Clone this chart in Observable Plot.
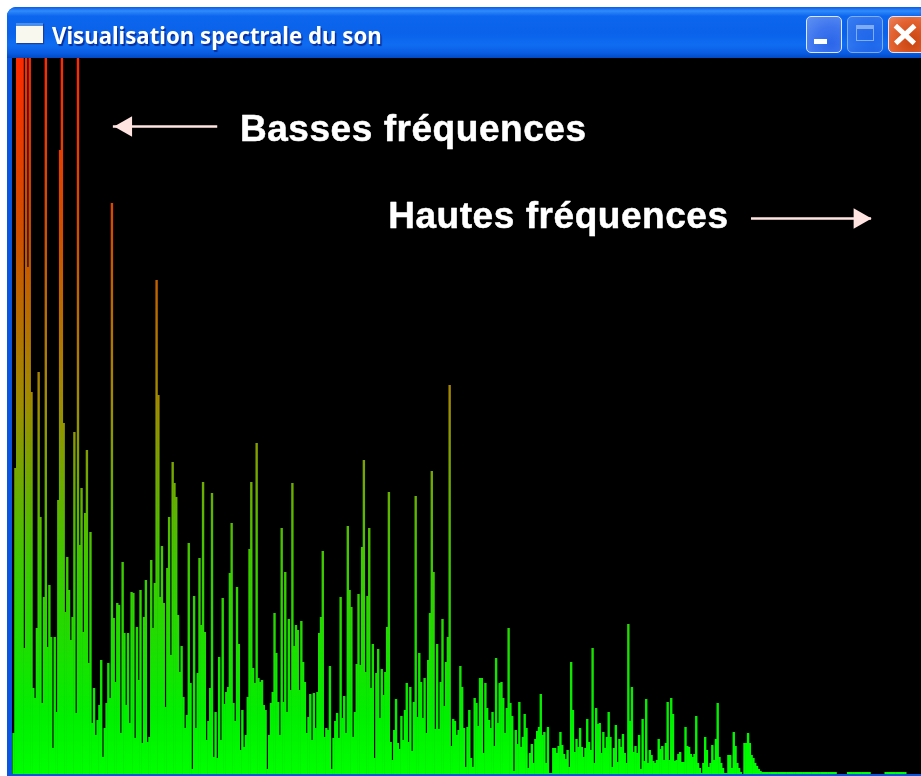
<!DOCTYPE html>
<html lang="fr">
<head>
<meta charset="utf-8">
<title>Visualisation spectrale du son</title>
<script src="https://cdn.jsdelivr.net/npm/d3@7"></script>
<script src="https://cdn.jsdelivr.net/npm/@observablehq/plot@0.6"></script>
<style>
html,body{margin:0;padding:0;background:#fff;width:921px;height:776px;overflow:hidden}
#win{position:absolute;left:7px;top:7px;width:914px;height:769px;background:#0a55e0;border-radius:9px 0 0 0;overflow:hidden}
#bar{position:absolute;left:0;top:0;width:914px;height:51px;
 background:linear-gradient(#0a5ce6 0,#2f8bfb 4px,#0d66ee 9px,#0a62ea 26px,#0f6df2 38px,#0a5ce2 46px,#0049c4 51px)}
#title{position:absolute;left:45px;top:12px;color:#fff;font:700 23.5px "Noto Sans",sans-serif;white-space:nowrap;text-shadow:1.5px 1.5px 1px #0a2f9a;transform:scaleX(.945);transform-origin:0 50%}
#icon{position:absolute;left:9px;top:16px;width:27px;height:20px;background:#f8f8ee;border-top:3px solid #4c8fe8;box-sizing:border-box;box-shadow:1px 1px 1px #1a3fa0}
.btn{position:absolute;top:9px;width:36px;height:37px;box-sizing:border-box;border:1.5px solid #dfe8fb;border-radius:5px;background:radial-gradient(circle at 70% 75%,#2b66ea,#3d74ee 45%,#5f92f2)}
#bmin{left:799px}
#bmax{left:840px;opacity:.55}
#bclose{left:881px;width:40px;background:radial-gradient(circle at 60% 70%,#c8430f,#e2612f 60%,#ea8460)}
#bmin i{position:absolute;left:7px;top:22px;width:13px;height:5px;background:#fff}
#bmax i{position:absolute;left:8px;top:8px;width:18px;height:16px;border:1.5px solid #dfe8fb;border-top-width:4px;box-sizing:border-box}
#bclose i{position:absolute;left:3px;top:15px;width:26px;height:4.5px;background:#fff;transform:rotate(43deg)}
#bclose i+i{transform:rotate(-43deg)}
#chart{position:absolute;left:12px;top:58px;width:909px;height:716px;line-height:0}
#chart svg{display:block}
#chart g[aria-label="rect"]{filter:blur(.6px)}
#chart text{letter-spacing:.55px;filter:blur(.3px)}
</style>
</head>
<body>
<div id="win">
  <div id="bar">
    <div id="icon"></div>
    <div id="title">Visualisation spectrale du son</div>
    <div class="btn" id="bmin"><i></i></div>
    <div class="btn" id="bmax"><i></i></div>
    <div class="btn" id="bclose"><i></i><i></i></div>
  </div>
</div>
<div id="chart"></div>
<script>
// Bar heights (bar 0 is the lowest frequency)
const lowBand = [41,306,716,716,716,716,126,716,507,716,382,86,76,146,402,257,71,177,716,127,
189,137,26,137,62,274,624,716,351,162,217,184,134,157,342,61,716,229,286,142,
261,324,111,242,51,86,39,54,69,114,17,46,71,111,76,571,156,92,171,169,
41,212,141,69,141,51,182,181,36,147,94,184,31,157,194,32,37,214,146,191,
494,379,177,228,171,67,206,257,119,312,291,277,159,102,128,77,46,59,231,91,
5,178,46,101,216,149,292,142,34,53,86,281,17,62,16,117,34,176,70,82,
87,201,251,71,53,187,130];
const midBand = [24,64,27,39,77,225,292,106,91,331,96,92,94,69,64,5,39,71,82,161,
121,72,39,246,72,202,62,155,84,291,128,149,144,84,153,112,92,41,57,80,
34,81,46,82,141,157,223,37,46,44,108,5,36,53,61,36,177,56,78,41,
248,184,167,37,62,110,180,109,227,314,102,178,246,86,130,16,101,125,56,105,
79,102,147,282,32,14,44,75,31,25,58,34,64,91,32,87,23,72,278,57,
121,92,56,96,41,114,161,303,202,45,130,45,92,155,68,112,137,389,28,55,
53,39,44,108,87,46,7,47,64,16,7,76,71,48,96];
const highBand = [96,21,91,66,54,46,62,28,116,51,91,92,76,41,66,146,71,58,3,44,
30,72,27,37,60,46,6,21,30,11,35,43,47,80,39,42,11,47,1,1,
26,26,21,28,42,29,20,15,24,7,112,64,22,35,27,46,27,17,26,55,
32,24,126,11,66,50,51,21,42,26,37,62,37,7,26,49,12,35,27,40,
21,11,150,53,87,22,28,21,39,5,55,13,75,11,24,19,13,11,14,35,
25,28,14,31,72,14,76,60,13,14,20,22,12,12,47,28,27,20,17,20,
58,11,6,1,11,37,24,7,11,29,14,35,71,17,11,6,1,1,19,19,
6,42,28,11,6,2,0,31,31,41,31,19,16,11,8,5,3];
const tailBand = [2,2,2,2,2,2,2,2,2,2,2,2,2,2,2,2,2,2,2,2,2,2,2,2,2,2,2,2,2,2,2,2,2,2,2,2,2,2,2,2,2,2,
0,0,0,0,0,0,2,2,2,2,2,2,2,2,2,2,2,2,2,0,0,0,0,0,0,0,0,2,2,2,2,2,2,2,2,2,2,2,2,0,0,0,0,0,0,0,0,0];
const spectrum = [...lowBand, ...midBand, ...highBand, ...tailBand];
const bars = spectrum.map((v, i) => ({i, next: i + 1, v}));

// Height-driven colour: green at the floor, red at the ceiling
const fadeOffsets = [0, 0.08, 0.3, 0.52, 0.75, 1];
const fadeColors = ["#00ff00", "#00f000", "#40c800", "#a08c00", "#d05000", "#ff2a00"];

// Annotations
const notes = [
  {label: "Basses fréquences", at: 127.0, level: 645},
  {label: "Hautes fréquences", at: 210.0, level: 558}
];
const arrows = [
  {from: 114.6, to: 56.2, level: 648},
  {from: 413.3, to: 480.5, level: 556}
];
const heads = [
  {at: 63.3, level: 648, turn: -90},
  {at: 473.8, level: 556, turn: 90}
];

function fade(index, {y}) {
  const defs = d3.create("svg:defs");
  const g = defs.append("linearGradient")
    .attr("id", "spectrumFade")
    .attr("gradientUnits", "userSpaceOnUse")
    .attr("x1", 0).attr("x2", 0)
    .attr("y1", y(0)).attr("y2", y(716));
  fadeOffsets.forEach((o, k) => g.append("stop").attr("offset", o).attr("stop-color", fadeColors[k]));
  return defs.node();
}

const plot = Plot.plot({
  width: 909, height: 716,
  margin: 0,
  style: {background: "#000", display: "block"},
  x: {domain: [0, 508], range: [0.45, 908.2], axis: null},
  y: {domain: [0, 716], range: [716, 0], axis: null},
  marks: [
    fade,
    Plot.rect(bars, {x1: "i", x2: "next", y1: 0, y2: "v", fill: "url(#spectrumFade)", insetRight: -0.6}),
    Plot.ruleY(arrows, {x1: "from", x2: "to", y: "level", stroke: "#ffe4e1", strokeWidth: 2.5}),
    Plot.dot(heads, {x: "at", y: "level", symbol: "triangle", rotate: "turn", r: 7.7, fill: "#ffe4e1", stroke: "none"}),
    Plot.text(notes, {x: "at", y: "level", text: "label", textAnchor: "start", fill: "#fff", stroke: "#fff", strokeWidth: 0.5,
      fontFamily: "Liberation Sans", fontWeight: "bold", fontSize: 37})
  ]
});
document.getElementById("chart").append(plot);
</script>
</body>
</html>
